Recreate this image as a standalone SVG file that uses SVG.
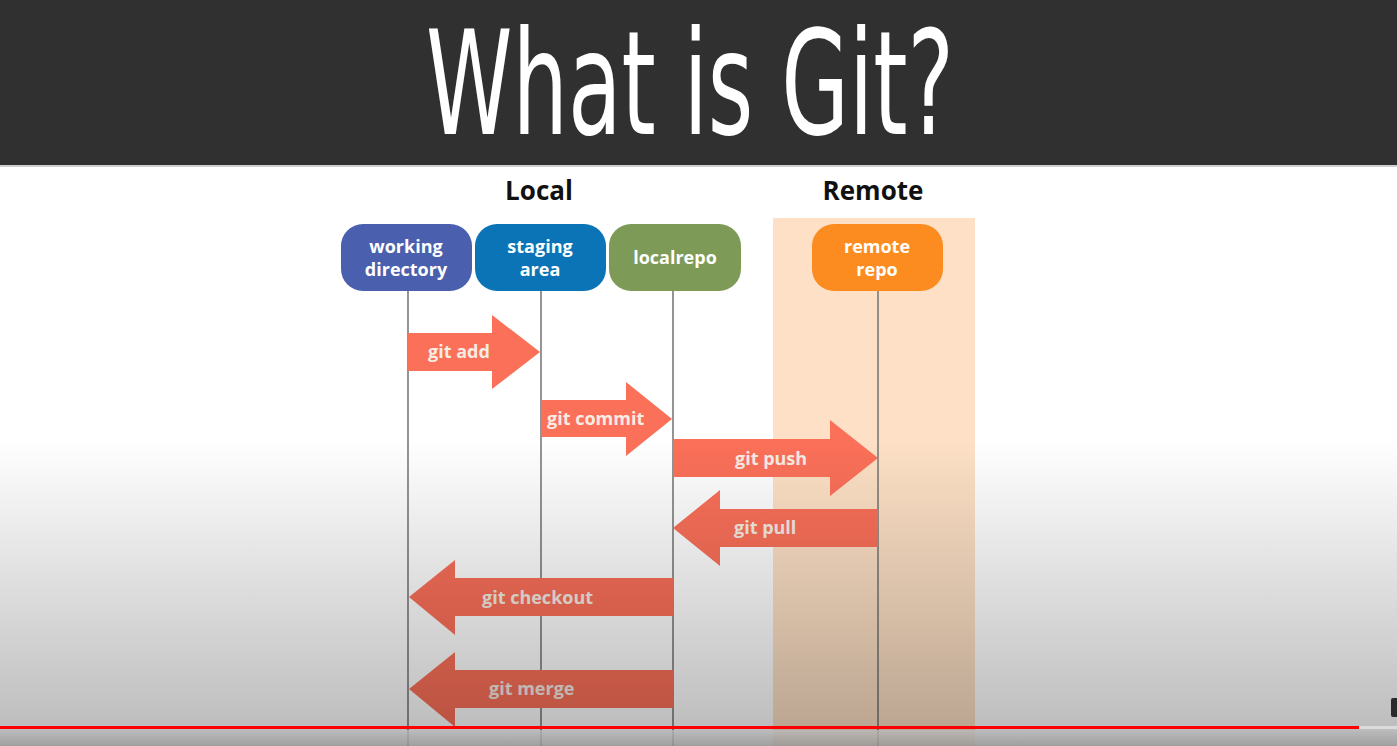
<svg xmlns="http://www.w3.org/2000/svg" width="1397" height="746" viewBox="0 0 1397 746">
<defs>
<style>
.node text{font-family:"Open Sans","Liberation Sans",sans-serif;font-weight:bold;font-size:18px;fill:#fff;text-anchor:middle}
.arr{fill:#fb7059}
.lbl{font-family:"Open Sans","Liberation Sans",sans-serif;font-weight:bold;font-size:18px;fill:#f6ece4}
.hdr{font-family:"Open Sans","Liberation Sans",sans-serif;font-weight:bold;font-size:26px;fill:#111;text-anchor:middle}
.life{stroke:#7a7a7a;stroke-width:1.6}
</style>
<linearGradient id="shade" x1="0" y1="0" x2="0" y2="1">
<stop offset="0" stop-color="#000" stop-opacity="0"/>
<stop offset="1" stop-color="#000" stop-opacity="0.26"/>
</linearGradient>
<linearGradient id="foot" x1="0" y1="0" x2="0" y2="1">
<stop offset="0" stop-color="#b0b0b0"/>
<stop offset="1" stop-color="#8e8e8e"/>
</linearGradient>
</defs>
<rect x="0" y="0" width="1397" height="746" fill="#ffffff"/>
<rect x="0" y="0" width="1397" height="165" fill="#303030"/>
<rect x="0" y="165" width="1397" height="2" fill="#cfcfcf"/>
<text x="690" y="134" font-family="'DejaVu Sans','Liberation Sans',sans-serif" font-size="144" fill="#ffffff" text-anchor="middle" textLength="528" lengthAdjust="spacingAndGlyphs">What is Git?</text>
<rect x="773" y="218" width="202" height="528" fill="#fde0c5"/>
<text class="hdr" x="539" y="200">Local</text>
<text class="hdr" x="873" y="200">Remote</text>
<g id="lifelines">
<line class="life" x1="408" y1="291" x2="408" y2="746"/>
<line class="life" x1="541" y1="291" x2="541" y2="746"/>
<line class="life" x1="673" y1="291" x2="673" y2="746"/>
<line class="life" x1="878" y1="291" x2="878" y2="746"/>
</g>
<g id="node-working" class="node">
<rect x="341" y="224" width="131" height="67" rx="22" fill="#4a5fae"/>
<text x="406" y="253">working</text>
<text x="406" y="276">directory</text>
</g>
<g id="node-staging" class="node">
<rect x="475" y="224" width="131" height="67" rx="22" fill="#0a74b6"/>
<text x="540" y="253">staging</text>
<text x="540" y="276">area</text>
</g>
<g id="node-localrepo" class="node">
<rect x="609" y="224" width="132" height="67" rx="22" fill="#7d9a57"/>
<text x="675" y="264">localrepo</text>
</g>
<g id="node-remote" class="node">
<rect x="812" y="224" width="131" height="67" rx="22" fill="#fd8c20"/>
<text x="877" y="253">remote</text>
<text x="877" y="276">repo</text>
</g>
<g id="connectors">
<g id="git-add"><polygon class="arr" points="408,333 492,333 492,315 540,352 492,389 492,371 408,371"/><text class="lbl" x="428" y="358">git add</text></g>
<g id="git-commit"><polygon class="arr" points="541,400 626,400 626,382 672,419 626,456 626,437 541,437"/><text class="lbl" x="547" y="425">git commit</text></g>
<g id="git-push"><polygon class="arr" points="673,439 830,439 830,420 878,458 830,496 830,477 673,477"/><text class="lbl" x="735" y="465">git push</text></g>
<g id="git-pull"><polygon class="arr" points="878,509 720,509 720,490 673,528 720,566 720,547 878,547"/><text class="lbl" x="734" y="534">git pull</text></g>
<g id="git-checkout"><polygon class="arr" points="673,578 455,578 455,560 409,597 455,635 455,616 673,616"/><text class="lbl" x="482" y="604">git checkout</text></g>
<g id="git-merge"><polygon class="arr" points="673,670 455,670 455,652 409,689 455,727 455,708 673,708"/><text class="lbl" x="489" y="695">git merge</text></g>
</g>
<rect x="0" y="440" width="1397" height="290" fill="url(#shade)"/>
<rect x="0" y="730" width="1397" height="16" fill="url(#foot)" opacity="0.85"/>
<rect x="0" y="726" width="1359" height="3" fill="#ff0000"/>
<rect x="1359" y="726" width="38" height="3" fill="#dcdcdc"/>
<rect x="1391" y="698" width="8" height="19" rx="2" fill="#2a2a2a"/>
</svg>
